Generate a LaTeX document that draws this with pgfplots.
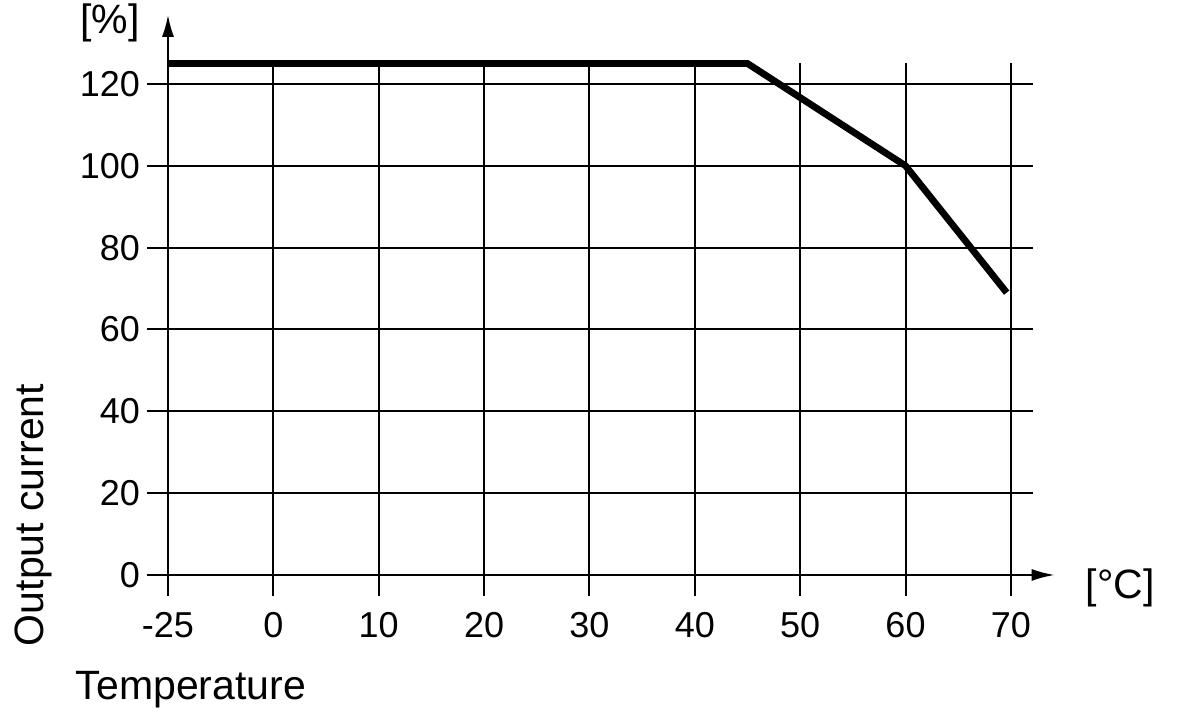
\documentclass[border=0pt]{standalone}
\usepackage{pgfplots}
\pgfplotsset{compat=1.18}
\usepackage{fontspec}
\setmainfont{Liberation Sans}
\usetikzlibrary{arrows.meta}
\pgfplotstableread{
u y
-1 125
4.5 125
6 100
6.96 69
}\derating
\begin{document}
\begin{tikzpicture}[font=\fontsize{18}{21}\selectfont]
\useasboundingbox (-84pt,-70.5pt) rectangle (516pt,287.5pt);
\begin{axis}[
  at={(0,0)}, anchor=south west,
  scale only axis, width=432.5pt, height=255.75pt,
  xmin=-1, xmax=7.21, ymin=0, ymax=125,
  axis line style={draw=none},
  xtick={-1,0,1,2,3,4,5,6,7},
  xticklabels={-25,0,10,20,30,40,50,60,70},
  ytick={0,20,40,60,80,100,120},
  xtick pos=bottom, ytick pos=left,
  tick align=outside,
  major tick length=10.5pt,
  tick style={black, line width=1pt},
  grid=major,
  grid style={black, line width=1pt},
  clip=false,
  /pgf/number format/assume math mode=true,
  xticklabel style={yshift=-4.5pt},
  yticklabel style={xshift=0pt},
]
\addplot[black, line width=3.4pt, line join=miter] table[x=u, y=y] {\derating};
\draw[line width=1pt, -{Latex[length=11.5pt,width=6pt]}] (axis cs:-1,0) -- (axis cs:7.415,0);
\draw[line width=1pt, -{Latex[length=11pt,width=6pt]}] (axis cs:-1,0) -- (axis cs:-1,136.9);
\end{axis}
\node[font=\fontsize{20.5}{24}\selectfont] at (-29pt,276pt) {[\%]};
\node[font=\fontsize{20.5}{24}\selectfont] at (476pt,-6.5pt) {[°C]};
\node[font=\fontsize{20.5}{24}\selectfont, rotate=90] at (-67.5pt,30pt) {Output current};
\node[font=\fontsize{20.5}{24}\selectfont] at (11.5pt,-57.5pt) {Temperature};
\end{tikzpicture}
\end{document}
